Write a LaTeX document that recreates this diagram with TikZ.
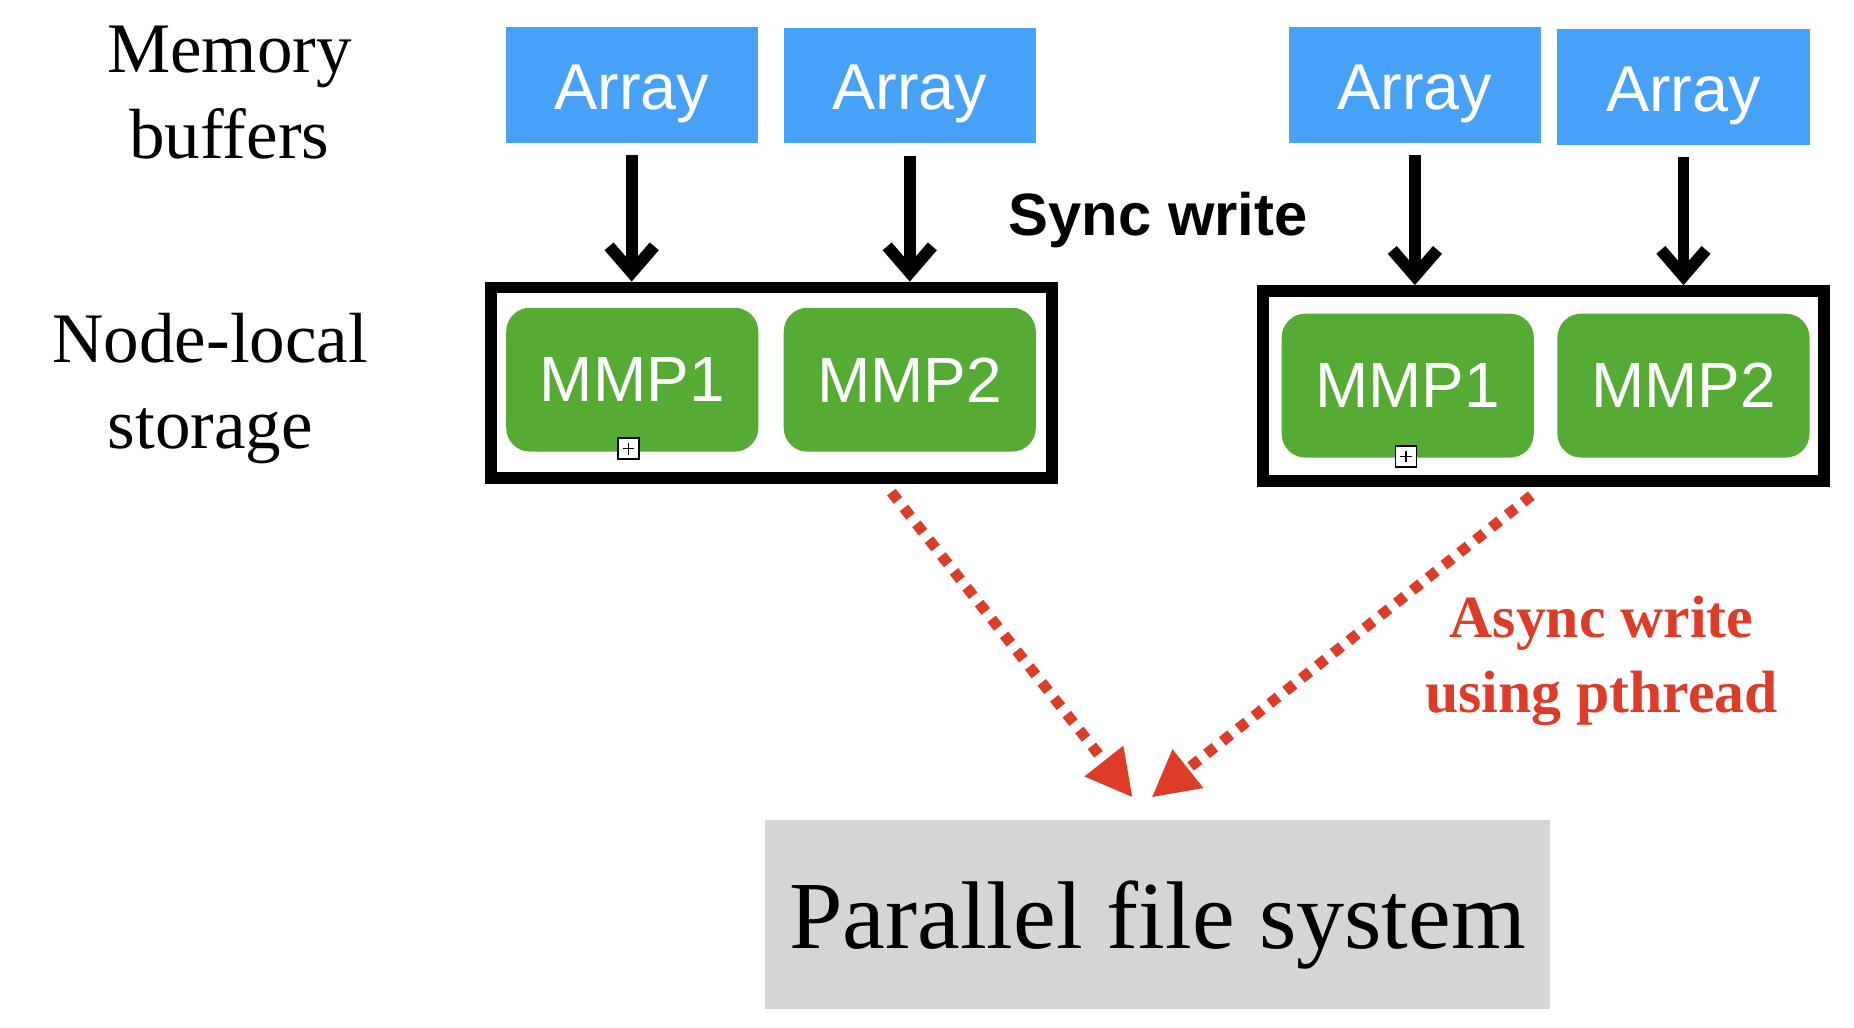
\documentclass[tikz,border=0pt]{standalone}
\usepackage{fontspec}
\setmainfont{Liberation Serif}
\setsansfont{Liberation Sans}
\usetikzlibrary{arrows.meta, calc}
\definecolor{arrblue}{HTML}{47A2F7}
\definecolor{mmpgreen}{HTML}{55AB34}
\definecolor{asyncred}{HTML}{DC3C28}
\definecolor{pfsgray}{HTML}{D5D5D5}

\begin{document}
\begin{tikzpicture}[x=0.01cm, y=-0.01cm,
    arr/.style={fill=arrblue, text=white, minimum width=2.12cm, minimum height=0.97cm, inner sep=0pt,
        text height=11.7pt, text depth=0pt, font=\sffamily\fontsize{15.5}{18}\selectfont},
    mmp/.style={fill=mmpgreen, text=white, rounded corners=0.2cm, minimum width=2.12cm, minimum height=1.21cm,
        inner sep=0pt, font=\sffamily\fontsize{15.3}{18}\selectfont},
    lstore/.style={draw, line width=0.1cm, minimum width=4.72cm, minimum height=1.6cm, inner sep=0pt},
    rowname/.style={align=center, font=\fontsize{17}{20.6}\selectfont},
    plusbox/.style={draw, fill=white, line width=0.014cm, minimum size=0.177cm, inner sep=0pt,
        path picture={
            \draw[line width=0.012cm] ($(path picture bounding box.north)+(0,4)$) -- ($(path picture bounding box.south)+(0,-4)$);
            \draw[line width=0.012cm] ($(path picture bounding box.west)+(4,0)$) -- ($(path picture bounding box.east)+(-4,0)$);
        }},
    swrite/.style={line width=0.1cm, -{Straight Barb[length=0.22cm,width=0.38cm]}, shorten <=0.1cm},
    awrite/.style={draw=asyncred, line width=0.09cm, dash pattern=on 0.09cm off 0.08cm,
        -{Triangle[length=0.39cm,width=0.39cm]}}
]
    \useasboundingbox (0,0) rectangle (1560,865);

    \node (M) [rowname] at (193,78) {Memory\\buffers};
    \node (N) [rowname] at (177,327) {Node-local\\storage};

    \node (a1) [arr] at (531.5,71.5) {Array};
    \node (a2) [arr] at (765.5,72) {Array};
    \node (a3) [arr] at (1190.5,71.5) {Array};
    \node (a4) [arr] at (1416.5,73.2) {Array};

    \node (b1) [lstore] at (649,322) {};
    \node (b2) [lstore] at (1298.5,325) {};

    \node (m1) [mmp] at (532,319.5) {MMP1};
    \node (m2) [mmp] at (765.5,319.5) {MMP2};
    \node (m3) [mmp] at (1184.5,324.5) {MMP1};
    \node (m4) [mmp] at (1416.5,324.5) {MMP2};

    \node (p1) [plusbox] at (529,377.6) {};
    \node (p2) [plusbox] at (1183,384) {};

    \node (sync) [anchor=base, font=\sffamily\bfseries\fontsize{14.3}{17}\selectfont] at (974.5,198) {Sync write};
    \node (async) [align=center, text=asyncred, font=\bfseries\fontsize{14.3}{17.9}\selectfont] at (1347.5,556) {Async write\\using pthread};

    \node (pfs) [fill=pfsgray, minimum width=6.6cm, minimum height=1.59cm, inner sep=0pt,
        text height=21.4pt, text depth=5pt, font=\fontsize{23}{27}\selectfont] at (974,769.5) {Parallel file system};

    \coordinate (tl) at (953,671);
    \coordinate (tr) at (969,671);

    \draw[swrite] (a1) -- (a1 |- b1.north);
    \draw[swrite] (a2) -- (a2 |- b1.north);
    \draw[swrite] (a3) -- (a3 |- b2.north);
    \draw[swrite] (a4) -- (a4 |- b2.north);

    \draw[awrite] ($(b1.south)+(101,7)$) -- (tl);
    \draw[awrite] ($(b2.south)+(-10,7)$) -- (tr);
\end{tikzpicture}
\end{document}
